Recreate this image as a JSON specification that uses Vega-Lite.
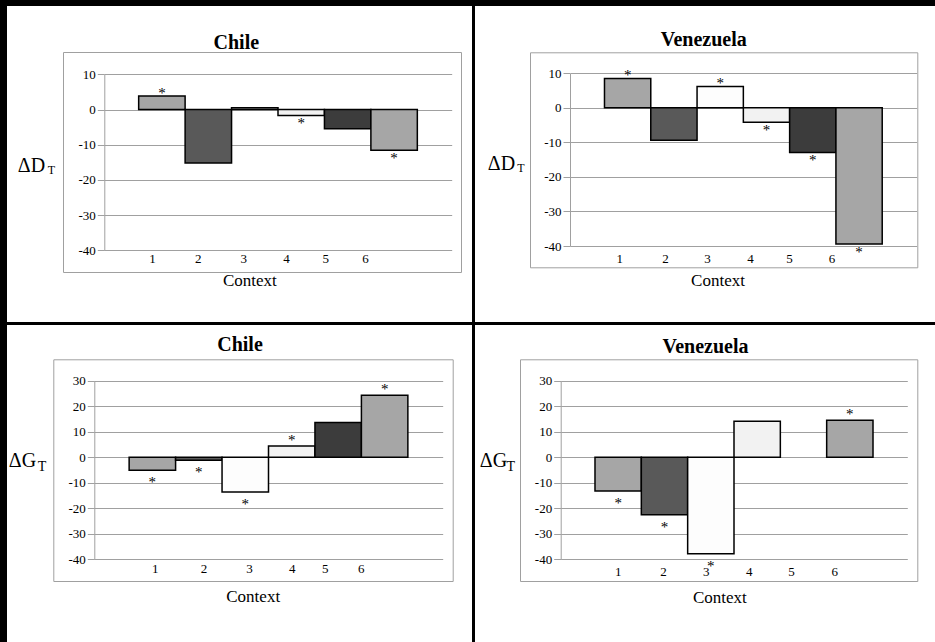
{
  "$schema": "https://vega.github.io/schema/vega-lite/v6.json",
  "background": "black",
  "padding": {"left": 7, "top": 6, "right": 0, "bottom": 0},
  "config": {
    "view": {"fill": "white", "stroke": null},
    "axis": {"labelFont": "Liberation Serif", "titleFont": "Liberation Serif", "labelColor": "black", "titleColor": "black", "titleFontWeight": "normal"},
    "text": {"font": "Liberation Serif"}
  },
  "datasets": {
    "dChile": [
      {"context": 1, "value": 3.8, "sig": true},
      {"context": 2, "value": -15.2, "sig": false},
      {"context": 3, "value": 0.5, "sig": false},
      {"context": 4, "value": -1.7, "sig": true},
      {"context": 5, "value": -5.5, "sig": false},
      {"context": 6, "value": -11.6, "sig": true}
    ],
    "dVenezuela": [
      {"context": 1, "value": 8.5, "sig": true},
      {"context": 2, "value": -9.4, "sig": false},
      {"context": 3, "value": 6.2, "sig": true},
      {"context": 4, "value": -4.2, "sig": true},
      {"context": 5, "value": -12.9, "sig": true},
      {"context": 6, "value": -39.4, "sig": true}
    ],
    "gChile": [
      {"context": 1, "value": -5.1, "sig": true},
      {"context": 2, "value": -1.2, "sig": true},
      {"context": 3, "value": -13.6, "sig": true},
      {"context": 4, "value": 4.4, "sig": true},
      {"context": 5, "value": 13.6, "sig": false},
      {"context": 6, "value": 24.3, "sig": true}
    ],
    "gVenezuela": [
      {"context": 1, "value": -13.2, "sig": true},
      {"context": 2, "value": -22.5, "sig": true},
      {"context": 3, "value": -37.8, "sig": true},
      {"context": 4, "value": 14.1, "sig": false},
      {"context": 6, "value": 14.5, "sig": true}
    ]
  },
  "vconcat": [
    {
      "hconcat": [
        {
          "width": 465, "height": 316,
          "data": {"name": "dChile"},
          "resolve": {"scale": {"x": "independent", "y": "independent"}, "axis": {"x": "independent", "y": "independent"}},
          "layer": [
            {
              "layer": [
                {
                  "mark": {"type": "bar", "stroke": "black", "strokeWidth": 1.5},
                  "encoding": {
                    "x": {"field": "context", "type": "ordinal", "title": null,
                      "scale": {"domain": [1, 2, 3, 4, 5, 6], "range": [97.3, 444.7], "paddingInner": 0, "paddingOuter": 0.74},
                      "axis": {"orient": "bottom", "offset": -71.7, "domain": false, "ticks": false, "tickSize": 0, "grid": false, "labelAngle": 0, "labelFontSize": 13, "labelBaseline": "middle", "labelPadding": 8,
                        "labelOffset": {"expr": "[-9.5,-10,-11,-14.7,-22,-28.5][datum.value-1]"}}},
                    "y": {"field": "value", "type": "quantitative", "stack": null, "title": "T",
                      "scale": {"domain": [-40, 10], "range": [244.3, 68.3], "nice": false, "zero": false},
                      "axis": {"orient": "left", "offset": -97.3, "values": [-40, -30, -20, -10, 0, 10], "labelExpr": "'' + datum.value", "grid": true, "gridColor": "#a0a0a0", "domainColor": "#a0a0a0", "tickColor": "#a0a0a0", "tickSize": 7, "labelPadding": 2, "labelFontSize": 13,
                        "titleAngle": 0, "titleFontSize": 12, "titleAlign": "left", "titleBaseline": "alphabetic", "titleX": -57, "titleY": 167.7}},
                    "color": {"field": "context", "type": "ordinal", "legend": null,
                      "scale": {"domain": [1, 2, 3, 4, 5, 6], "range": ["#a6a6a6", "#595959", "#fdfdfd", "#f2f2f2", "#3c3c3c", "#a6a6a6"]}}
                  }
                },
                {
                  "transform": [{"filter": "datum.sig && datum.value > 0"}],
                  "mark": {"type": "text", "text": "*", "fontSize": 15, "baseline": "alphabetic", "dy": 1.5, "fill": "black"},
                  "encoding": {"x": {"field": "context", "type": "ordinal", "title": null}, "y": {"field": "value", "type": "quantitative", "title": "T"}}
                },
                {
                  "transform": [{"filter": "datum.sig && datum.value < 0"}],
                  "mark": {"type": "text", "text": "*", "fontSize": 15, "baseline": "alphabetic", "dy": 13, "fill": "black"},
                  "encoding": {"x": {"field": "context", "type": "ordinal", "title": null}, "y": {"field": "value", "type": "quantitative", "title": "T"}}
                }
              ]
            },
            {
              "transform": [{"filter": "false"}],
              "mark": "point",
              "encoding": {
                "x": {"field": "context", "type": "quantitative", "title": "Chile",
                  "scale": {"domain": [0, 1], "range": [56, 454], "nice": false, "zero": false},
                  "axis": {"orient": "top", "offset": -46, "domainColor": "#a0a0a0", "labels": false, "ticks": false, "grid": false, "titleFontSize": 20, "titleFontWeight": "bold", "titleAlign": "center", "titleBaseline": "alphabetic", "titleX": 228.8, "titleY": -4}},
                "y": {"field": "value", "type": "quantitative", "title": "ΔD",
                  "scale": {"domain": [0, 1], "range": [266, 46], "nice": false, "zero": false},
                  "axis": {"orient": "left", "offset": -56, "domainColor": "#a0a0a0", "labels": false, "ticks": false, "grid": false, "titleFontSize": 20, "titleAngle": 0, "titleAlign": "left", "titleBaseline": "alphabetic", "titleX": -45.7, "titleY": 165.7}}
              }
            },
            {
              "transform": [{"filter": "false"}],
              "mark": "point",
              "encoding": {
                "x": {"field": "context", "type": "quantitative", "title": "Context",
                  "scale": {"domain": [0, 1], "range": [56, 454], "nice": false, "zero": false},
                  "axis": {"orient": "bottom", "offset": -50, "domainColor": "#a0a0a0", "labels": false, "ticks": false, "grid": false, "titleFontSize": 17, "titleAlign": "center", "titleBaseline": "alphabetic", "titleX": 242.3, "titleY": 13}},
                "y": {"field": "value", "type": "quantitative", "title": null,
                  "scale": {"domain": [0, 1], "range": [266, 46], "nice": false, "zero": false},
                  "axis": {"orient": "right", "offset": -11, "domainColor": "#a0a0a0", "labels": false, "ticks": false, "grid": false}}
              }
            }
          ]
        },
        {
          "width": 460, "height": 316,
          "data": {"name": "dVenezuela"},
          "resolve": {"scale": {"x": "independent", "y": "independent"}, "axis": {"x": "independent", "y": "independent"}},
          "layer": [
            {
              "layer": [
                {
                  "mark": {"type": "bar", "stroke": "black", "strokeWidth": 1.5},
                  "encoding": {
                    "x": {"field": "context", "type": "ordinal", "title": null,
                      "scale": {"domain": [1, 2, 3, 4, 5, 6], "range": [95, 441.7], "paddingInner": 0, "paddingOuter": 0.745},
                      "axis": {"orient": "bottom", "offset": -76, "domain": false, "ticks": false, "tickSize": 0, "grid": false, "labelAngle": 0, "labelFontSize": 13, "labelBaseline": "middle", "labelPadding": 12.3,
                        "labelOffset": {"expr": "[-8,-8.4,-12.7,-16,-23.3,-27][datum.value-1]"}}},
                    "y": {"field": "value", "type": "quantitative", "stack": null, "title": "T",
                      "scale": {"domain": [-40, 10], "range": [240, 67.3], "nice": false, "zero": false},
                      "axis": {"orient": "left", "offset": -95, "values": [-40, -30, -20, -10, 0, 10], "labelExpr": "'' + datum.value", "grid": true, "gridColor": "#a0a0a0", "domainColor": "#a0a0a0", "tickColor": "#a0a0a0", "tickSize": 7, "labelPadding": 2, "labelFontSize": 13,
                        "titleAngle": 0, "titleFontSize": 12, "titleAlign": "left", "titleBaseline": "alphabetic", "titleX": -53.3, "titleY": 165}},
                    "color": {"field": "context", "type": "ordinal", "legend": null,
                      "scale": {"domain": [1, 2, 3, 4, 5, 6], "range": ["#a6a6a6", "#595959", "#fbfbfb", "#f2f2f2", "#3c3c3c", "#a6a6a6"]}}
                  }
                },
                {
                  "transform": [{"filter": "datum.sig && datum.value > 0"}],
                  "mark": {"type": "text", "text": "*", "fontSize": 15, "baseline": "alphabetic", "dy": 1.5, "fill": "black"},
                  "encoding": {"x": {"field": "context", "type": "ordinal", "title": null}, "y": {"field": "value", "type": "quantitative", "title": "T"}}
                },
                {
                  "transform": [{"filter": "datum.sig && datum.value < 0"}],
                  "mark": {"type": "text", "text": "*", "fontSize": 15, "baseline": "alphabetic", "dy": 13, "fill": "black"},
                  "encoding": {"x": {"field": "context", "type": "ordinal", "title": null}, "y": {"field": "value", "type": "quantitative", "title": "T"}}
                }
              ]
            },
            {
              "transform": [{"filter": "false"}],
              "mark": "point",
              "encoding": {
                "x": {"field": "context", "type": "quantitative", "title": "Venezuela",
                  "scale": {"domain": [0, 1], "range": [55, 442.3], "nice": false, "zero": false},
                  "axis": {"orient": "top", "offset": -46.3, "domainColor": "#a0a0a0", "labels": false, "ticks": false, "grid": false, "titleFontSize": 20, "titleFontWeight": "bold", "titleAlign": "center", "titleBaseline": "alphabetic", "titleX": 228.3, "titleY": -6.6}},
                "y": {"field": "value", "type": "quantitative", "title": "ΔD",
                  "scale": {"domain": [0, 1], "range": [261.3, 46.3], "nice": false, "zero": false},
                  "axis": {"orient": "left", "offset": -55, "domainColor": "#a0a0a0", "labels": false, "ticks": false, "grid": false, "titleFontSize": 20, "titleAngle": 0, "titleAlign": "left", "titleBaseline": "alphabetic", "titleX": -42.7, "titleY": 163}}
              }
            },
            {
              "transform": [{"filter": "false"}],
              "mark": "point",
              "encoding": {
                "x": {"field": "context", "type": "quantitative", "title": "Context",
                  "scale": {"domain": [0, 1], "range": [55, 442.3], "nice": false, "zero": false},
                  "axis": {"orient": "bottom", "offset": -54.7, "domainColor": "#a0a0a0", "labels": false, "ticks": false, "grid": false, "titleFontSize": 17, "titleAlign": "center", "titleBaseline": "alphabetic", "titleX": 242.5, "titleY": 17.7}},
                "y": {"field": "value", "type": "quantitative", "title": null,
                  "scale": {"domain": [0, 1], "range": [261.3, 46.3], "nice": false, "zero": false},
                  "axis": {"orient": "right", "offset": -17.7, "domainColor": "#a0a0a0", "labels": false, "ticks": false, "grid": false}}
              }
            }
          ]
        }
      ],
      "spacing": 3
    },
    {
      "hconcat": [
        {
          "width": 465, "height": 317,
          "data": {"name": "gChile"},
          "resolve": {"scale": {"x": "independent", "y": "independent"}, "axis": {"x": "independent", "y": "independent"}},
          "layer": [
            {
              "layer": [
                {
                  "mark": {"type": "bar", "stroke": "black", "strokeWidth": 1.5},
                  "encoding": {
                    "x": {"field": "context", "type": "ordinal", "title": null,
                      "scale": {"domain": [1, 2, 3, 4, 5, 6], "range": [87.3, 435.7], "paddingInner": 0, "paddingOuter": 0.75},
                      "axis": {"orient": "bottom", "offset": -82.7, "domain": false, "ticks": false, "tickSize": 0, "grid": false, "labelAngle": 0, "labelFontSize": 13, "labelBaseline": "middle", "labelPadding": 9,
                        "labelOffset": {"expr": "[2.8,5.3,4.2,0.4,-13,-23.5][datum.value-1]"}}},
                    "y": {"field": "value", "type": "quantitative", "stack": null, "title": "T",
                      "scale": {"domain": [-40, 30], "range": [234.3, 55.7], "nice": false, "zero": false},
                      "axis": {"orient": "left", "offset": -87.3, "values": [-40, -30, -20, -10, 0, 10, 20, 30], "labelExpr": "'' + datum.value", "grid": true, "gridColor": "#a0a0a0", "domainColor": "#a0a0a0", "tickColor": "#a0a0a0", "tickSize": 7, "labelPadding": 2, "labelFontSize": 13,
                        "titleAngle": 0, "titleFontSize": 14, "titleAlign": "left", "titleBaseline": "alphabetic", "titleX": -57, "titleY": 145.7}},
                    "color": {"field": "context", "type": "ordinal", "legend": null,
                      "scale": {"domain": [1, 2, 3, 4, 5, 6], "range": ["#a6a6a6", "#595959", "#fdfdfd", "#f2f2f2", "#3c3c3c", "#a6a6a6"]}}
                  }
                },
                {
                  "transform": [{"filter": "datum.sig && datum.value > 0"}],
                  "mark": {"type": "text", "text": "*", "fontSize": 15, "baseline": "alphabetic", "dy": -1, "fill": "black"},
                  "encoding": {"x": {"field": "context", "type": "ordinal", "title": null}, "y": {"field": "value", "type": "quantitative", "title": "T"}}
                },
                {
                  "transform": [{"filter": "datum.sig && datum.value < 0"}],
                  "mark": {"type": "text", "text": "*", "fontSize": 15, "baseline": "alphabetic", "dy": 17, "fill": "black"},
                  "encoding": {"x": {"field": "context", "type": "ordinal", "title": null}, "y": {"field": "value", "type": "quantitative", "title": "T"}}
                }
              ]
            },
            {
              "transform": [{"filter": "false"}],
              "mark": "point",
              "encoding": {
                "x": {"field": "context", "type": "quantitative", "title": "Chile",
                  "scale": {"domain": [0, 1], "range": [46.3, 445.7], "nice": false, "zero": false},
                  "axis": {"orient": "top", "offset": -34.3, "domainColor": "#a0a0a0", "labels": false, "ticks": false, "grid": false, "titleFontSize": 20, "titleFontWeight": "bold", "titleAlign": "center", "titleBaseline": "alphabetic", "titleX": 232.5, "titleY": -8.6}},
                "y": {"field": "value", "type": "quantitative", "title": "ΔG",
                  "scale": {"domain": [0, 1], "range": [256, 34.3], "nice": false, "zero": false},
                  "axis": {"orient": "left", "offset": -46.3, "domainColor": "#a0a0a0", "labels": false, "ticks": false, "grid": false, "titleFontSize": 20, "titleAngle": 0, "titleAlign": "left", "titleBaseline": "alphabetic", "titleX": -45, "titleY": 141.7}}
              }
            },
            {
              "transform": [{"filter": "false"}],
              "mark": "point",
              "encoding": {
                "x": {"field": "context", "type": "quantitative", "title": "Context",
                  "scale": {"domain": [0, 1], "range": [46.3, 445.7], "nice": false, "zero": false},
                  "axis": {"orient": "bottom", "offset": -61, "domainColor": "#a0a0a0", "labels": false, "ticks": false, "grid": false, "titleFontSize": 17, "titleAlign": "center", "titleBaseline": "alphabetic", "titleX": 245.7, "titleY": 20}},
                "y": {"field": "value", "type": "quantitative", "title": null,
                  "scale": {"domain": [0, 1], "range": [256, 34.3], "nice": false, "zero": false},
                  "axis": {"orient": "right", "offset": -19.3, "domainColor": "#a0a0a0", "labels": false, "ticks": false, "grid": false}}
              }
            }
          ]
        },
        {
          "width": 460, "height": 317,
          "data": {"name": "gVenezuela"},
          "resolve": {"scale": {"x": "independent", "y": "independent"}, "axis": {"x": "independent", "y": "independent"}},
          "layer": [
            {
              "layer": [
                {
                  "mark": {"type": "bar", "stroke": "black", "strokeWidth": 1.5},
                  "encoding": {
                    "x": {"field": "context", "type": "ordinal", "title": null,
                      "scale": {"domain": [1, 2, 3, 4, 5, 6], "range": [85.7, 432.3], "paddingInner": 0, "paddingOuter": 0.74},
                      "axis": {"orient": "bottom", "offset": -82.7, "domain": false, "ticks": false, "tickSize": 0, "grid": false, "labelAngle": 0, "labelFontSize": 13, "labelBaseline": "middle", "labelPadding": 12.4,
                        "labelOffset": {"expr": "[0,-1,-4.5,-8,-12,-15][datum.value-1]"}}},
                    "y": {"field": "value", "type": "quantitative", "stack": null, "title": "T",
                      "scale": {"domain": [-40, 30], "range": [234.3, 55.7], "nice": false, "zero": false},
                      "axis": {"orient": "left", "offset": -85.7, "values": [-40, -30, -20, -10, 0, 10, 20, 30], "labelExpr": "'' + datum.value", "grid": true, "gridColor": "#a0a0a0", "domainColor": "#a0a0a0", "tickColor": "#a0a0a0", "tickSize": 7, "labelPadding": 2, "labelFontSize": 13,
                        "titleAngle": 0, "titleFontSize": 14, "titleAlign": "left", "titleBaseline": "alphabetic", "titleX": -54.7, "titleY": 145}},
                    "color": {"field": "context", "type": "ordinal", "legend": null,
                      "scale": {"domain": [1, 2, 3, 4, 5, 6], "range": ["#a6a6a6", "#595959", "#fbfbfb", "#f2f2f2", "#3c3c3c", "#a6a6a6"]}}
                  }
                },
                {
                  "transform": [{"filter": "datum.sig && datum.value > 0"}],
                  "mark": {"type": "text", "text": "*", "fontSize": 15, "baseline": "alphabetic", "dy": -1, "fill": "black"},
                  "encoding": {"x": {"field": "context", "type": "ordinal", "title": null}, "y": {"field": "value", "type": "quantitative", "title": "T"}}
                },
                {
                  "transform": [{"filter": "datum.sig && datum.value < 0"}],
                  "mark": {"type": "text", "text": "*", "fontSize": 15, "baseline": "alphabetic", "dy": 17, "fill": "black"},
                  "encoding": {"x": {"field": "context", "type": "ordinal", "title": null}, "y": {"field": "value", "type": "quantitative", "title": "T"}}
                }
              ]
            },
            {
              "transform": [{"filter": "false"}],
              "mark": "point",
              "encoding": {
                "x": {"field": "context", "type": "quantitative", "title": "Venezuela",
                  "scale": {"domain": [0, 1], "range": [45, 442.3], "nice": false, "zero": false},
                  "axis": {"orient": "top", "offset": -34.3, "domainColor": "#a0a0a0", "labels": false, "ticks": false, "grid": false, "titleFontSize": 20, "titleFontWeight": "bold", "titleAlign": "center", "titleBaseline": "alphabetic", "titleX": 230, "titleY": -6.6}},
                "y": {"field": "value", "type": "quantitative", "title": "ΔG",
                  "scale": {"domain": [0, 1], "range": [256, 34.3], "nice": false, "zero": false},
                  "axis": {"orient": "left", "offset": -45, "domainColor": "#a0a0a0", "labels": false, "ticks": false, "grid": false, "titleFontSize": 20, "titleAngle": 0, "titleAlign": "left", "titleBaseline": "alphabetic", "titleX": -40.7, "titleY": 141.7}}
              }
            },
            {
              "transform": [{"filter": "false"}],
              "mark": "point",
              "encoding": {
                "x": {"field": "context", "type": "quantitative", "title": "Context",
                  "scale": {"domain": [0, 1], "range": [45, 442.3], "nice": false, "zero": false},
                  "axis": {"orient": "bottom", "offset": -61, "domainColor": "#a0a0a0", "labels": false, "ticks": false, "grid": false, "titleFontSize": 17, "titleAlign": "center", "titleBaseline": "alphabetic", "titleX": 244.3, "titleY": 21.7}},
                "y": {"field": "value", "type": "quantitative", "title": null,
                  "scale": {"domain": [0, 1], "range": [256, 34.3], "nice": false, "zero": false},
                  "axis": {"orient": "right", "offset": -17.7, "domainColor": "#a0a0a0", "labels": false, "ticks": false, "grid": false}}
              }
            }
          ]
        }
      ],
      "spacing": 3
    }
  ],
  "spacing": 3
}
